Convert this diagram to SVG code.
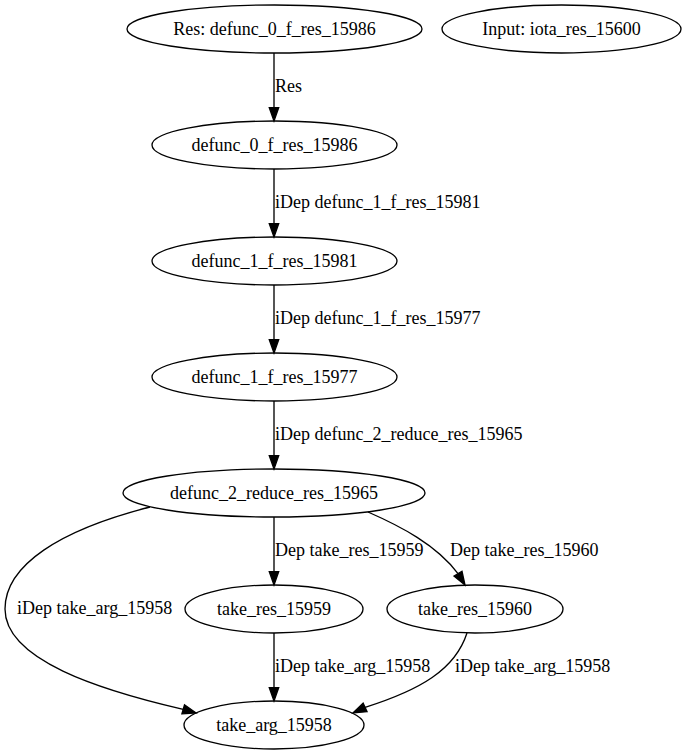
<svg xmlns="http://www.w3.org/2000/svg" width="686" height="755" viewBox="0 0 686 755">
<style>
.n ellipse{fill:none;stroke:#000;stroke-width:1.33}
text{font-family:"Liberation Serif",serif;font-size:18px;fill:#000}
.n text{text-anchor:middle}
.e path{fill:none;stroke:#000;stroke-width:1.33}
.e polygon{fill:#000;stroke:#000;stroke-width:1.33}
</style>
<rect width="686" height="755" fill="#fff"/>
<g id="n_res"  class="n"><ellipse cx="274.5" cy="29" rx="147.5" ry="24"/><text x="274.5" y="34.6">Res: defunc_0_f_res_15986</text></g>
<g id="n_input" class="n"><ellipse cx="561.5" cy="29" rx="119.5" ry="24"/><text x="561.5" y="34.6">Input: iota_res_15600</text></g>
<g id="n_d0" class="n"><ellipse cx="274.5" cy="145" rx="122.5" ry="24"/><text x="274.5" y="150.6">defunc_0_f_res_15986</text></g>
<g id="n_d1a" class="n"><ellipse cx="274.5" cy="261" rx="122.5" ry="24"/><text x="274.5" y="266.6">defunc_1_f_res_15981</text></g>
<g id="n_d1b" class="n"><ellipse cx="274.5" cy="377" rx="122.5" ry="24"/><text x="274.5" y="382.6">defunc_1_f_res_15977</text></g>
<g id="n_d2" class="n"><ellipse cx="274" cy="493" rx="151" ry="24"/><text x="274" y="498.6">defunc_2_reduce_res_15965</text></g>
<g id="n_t59" class="n"><ellipse cx="274" cy="609" rx="89" ry="24"/><text x="274" y="614.6">take_res_15959</text></g>
<g id="n_t60" class="n"><ellipse cx="475" cy="609" rx="88" ry="24"/><text x="475" y="614.6">take_res_15960</text></g>
<g id="n_targ" class="n"><ellipse cx="274" cy="725" rx="90" ry="24"/><text x="274" y="730.6">take_arg_15958</text></g>
<g id="edges" class="e">
<path d="M274,53 L274,107.7"/><polygon points="269.3,107.7 274,121 278.7,107.7"/>
<text x="275" y="92">Res</text>
<path d="M274,169 L274,223.7"/><polygon points="269.3,223.7 274,237 278.7,223.7"/>
<text x="275" y="208">iDep defunc_1_f_res_15981</text>
<path d="M274,285 L274,339.7"/><polygon points="269.3,339.7 274,353 278.7,339.7"/>
<text x="275" y="324">iDep defunc_1_f_res_15977</text>
<path d="M274,401 L274,455.7"/><polygon points="269.3,455.7 274,469 278.7,455.7"/>
<text x="275" y="440">iDep defunc_2_reduce_res_15965</text>
<path d="M274,517 L274,571.7"/><polygon points="269.3,571.7 274,585 278.7,571.7"/>
<text x="275" y="556">Dep take_res_15959</text>
<path d="M274,633 L274,687.7"/><polygon points="269.3,687.7 274,701 278.7,687.7"/>
<text x="275" y="672">iDep take_arg_15958</text>
<path d="M368,512 C400,526 437,545 458,573.7"/><polygon points="461.97,571.26 465,585 454.03,576.14"/>
<text x="450" y="556">Dep take_res_15960</text>
<path d="M467,633 C455,670 420,690 365.1,707.4"/><polygon points="367.06,711.65 353,713 363.14,703.15"/>
<text x="455" y="672">iDep take_arg_15958</text>
<path d="M150,507 C60,530 5,565 5,609 C5,660 100,690 183.2,709.3"/><polygon points="181.9,713.8 196,713 184.5,704.8"/>
<text x="17" y="614">iDep take_arg_15958</text>
</g>
</svg>
